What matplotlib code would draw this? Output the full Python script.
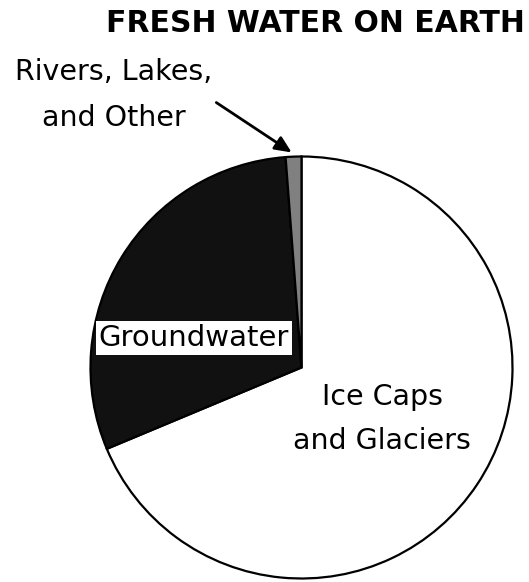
import matplotlib.pyplot as plt

# fresh water share (%)
labels = ["Ice Caps\nand Glaciers", "Groundwater", "Rivers, Lakes,\nand Other"]
shares = [68.7, 30.1, 1.2]
colors = ["white", "#111111", "#808080"]

W, H = 529, 582

fig = plt.figure(figsize=(W / 100, H / 100), dpi=100)
ax = fig.add_axes([0, 0, 1, 1])

# pixel-style coordinates, y measured from the top
cx, cy, r = 301.5, H - 367.5, 211

ax.pie(
    shares,
    colors=colors,
    startangle=90,
    counterclock=False,
    center=(cx, cy),
    radius=r,
    frame=True,
    wedgeprops=dict(edgecolor="black", linewidth=1.6),
)
ax.set_xlim(0, W)
ax.set_ylim(0, H)
ax.set_aspect("equal")
ax.axis("off")

ax.text(315, H - 24, "FRESH WATER ON EARTH", ha="center", va="center",
        fontsize=21.5, fontweight="bold")

ax.text(382, H - 419, labels[0], ha="center", va="center",
        fontsize=20.5, linespacing=1.72)

ax.text(194, H - 338, labels[1], ha="center", va="center", fontsize=21,
        bbox=dict(boxstyle="square,pad=0.1", facecolor="white", edgecolor="none"))

ax.text(114, H - 95, labels[2], ha="center", va="center",
        fontsize=20.5, linespacing=1.78)

ax.annotate("", xy=(294, H - 154), xytext=(214, H - 101),
            arrowprops=dict(arrowstyle="-|>,head_length=1.0,head_width=0.45",
                            color="black", lw=2))

fig.savefig("out.png", dpi=100)
